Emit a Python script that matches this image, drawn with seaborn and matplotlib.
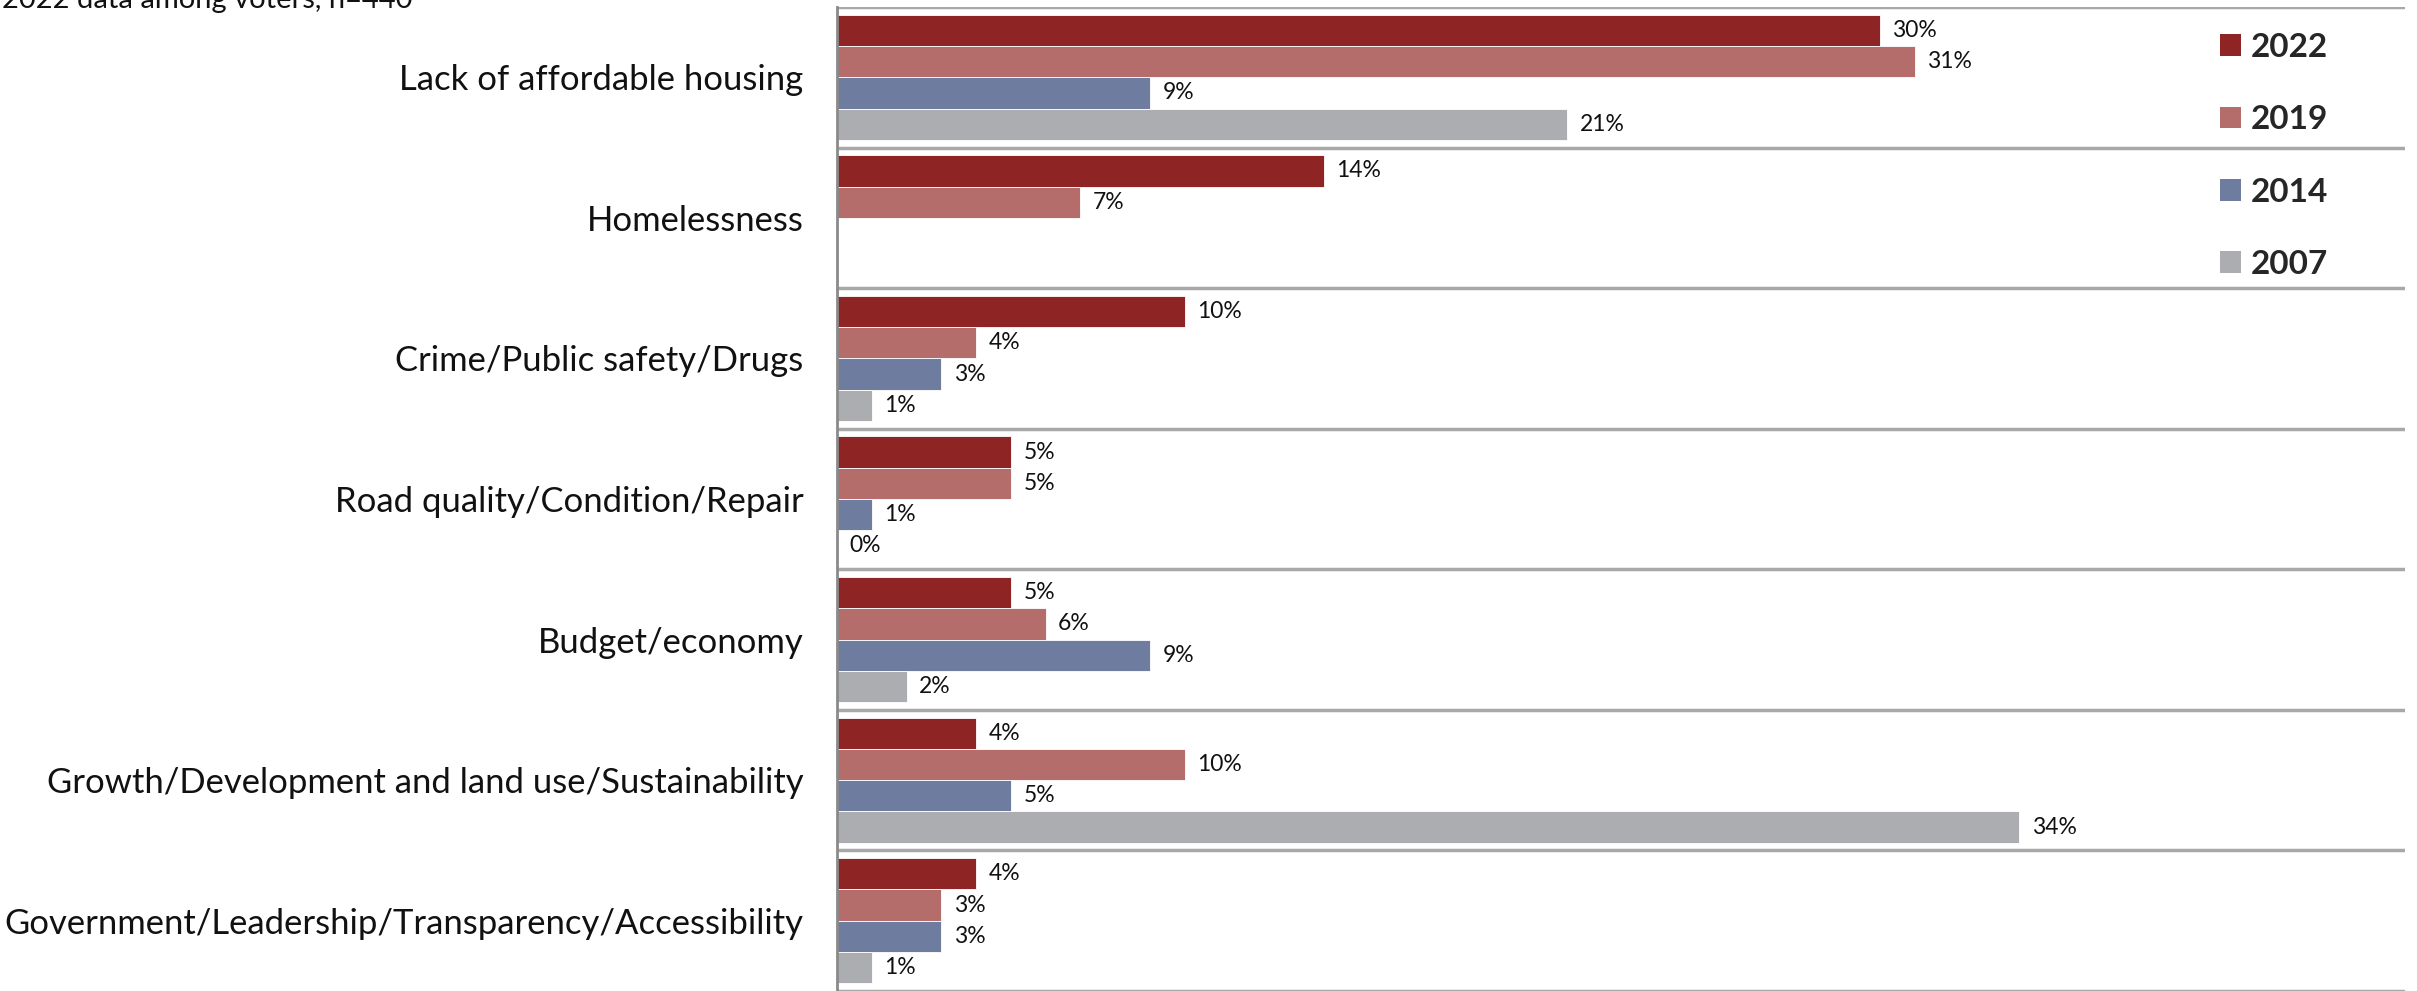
import matplotlib
matplotlib.use("Agg")
import matplotlib.pyplot as plt
from matplotlib.patches import Patch
import seaborn as sns
import pandas as pd
import numpy as np

categories = [
    "Lack of affordable housing",
    "Homelessness",
    "Crime/Public safety/Drugs",
    "Road quality/Condition/Repair",
    "Budget/economy",
    "Growth/Development and land use/Sustainability",
    "Government/Leadership/Transparency/Accessibility",
]
years = ["2022", "2019", "2014", "2007"]
v2022 = [30, 14, 10, 5, 5, 4, 4]
v2019 = [31, 7, 4, 5, 6, 10, 3]
v2014 = [9, np.nan, 3, 1, 9, 5, 3]
v2007 = [21, np.nan, 1, 0, 2, 34, 1]
colors = ["#8E2424", "#B46D6A", "#6D7C9F", "#ACADB1"]
subtitle = "2022 data among voters, n=440"

rows = []
for yr, vals in zip(years, [v2022, v2019, v2014, v2007]):
    for c, v in zip(categories, vals):
        rows.append({"category": c, "year": yr, "value": v})
df = pd.DataFrame(rows)

sns.set_theme(style="white")
plt.rcParams["font.family"] = ["Lato", "DejaVu Sans"]

W, H = 2417, 991
fig = plt.figure(figsize=(W / 100, H / 100), dpi=100)
ax = fig.add_axes([837 / W, 0, (2405 - 837) / W, (H - 7) / H])

sns.barplot(data=df, y="category", x="value", hue="year", order=categories,
            hue_order=years, palette=colors, orient="h", width=0.89,
            errorbar=None, ax=ax, legend=False, saturation=1,
            edgecolor="white", linewidth=0.6)

for cont in ax.containers:
    ax.bar_label(cont, fmt=lambda v: "" if np.isnan(v) else f"{v:.0f}%",
                 padding=9, fontsize=16.5, color="#111111")

ax.set_xlim(0, 45.1)
ax.set_ylim(len(categories) - 0.5, -0.5)
ax.set_xlabel("")
ax.set_ylabel("")
ax.set_xticks([])
ax.tick_params(axis="y", which="major", length=0, pad=24, labelsize=24.9,
               labelcolor="#111111")
ax.set_yticks(np.arange(-0.5, len(categories) + 0.5, 1), minor=True)
ax.tick_params(axis="y", which="minor", length=8, width=2, color="#8a8a8a")
ax.grid(False)
ax.grid(True, which="minor", axis="y", color="#a8a8a8", lw=2.5)
ax.set_axisbelow(True)
for s in ["top", "right", "bottom"]:
    ax.spines[s].set_visible(False)
ax.spines["left"].set_color("#8a8a8a")
ax.spines["left"].set_linewidth(2)

handles = [Patch(facecolor=c, edgecolor="none", label=y) for c, y in zip(colors, years)]
leg = ax.legend(handles=handles, loc="upper left",
                bbox_to_anchor=(2220 / W, 1 - 33 / H), bbox_transform=fig.transFigure,
                frameon=False, borderpad=0, borderaxespad=0,
                handlelength=0.62, handleheight=0.62, handletextpad=0.3,
                labelspacing=1.3, prop={"family": "Lato", "weight": "bold", "size": 24})

fig.text(0.001, 1 - 8 / H, subtitle, fontsize=21, va="baseline", ha="left",
         color="#111111")

fig.savefig("out.png", dpi=100)
